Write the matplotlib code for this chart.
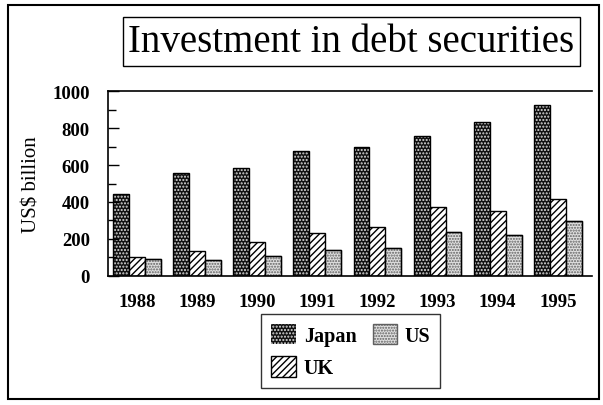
import numpy as np
import matplotlib.pyplot as plt
from matplotlib.patches import Rectangle
from matplotlib.ticker import MultipleLocator

years = ['1988', '1989', '1990', '1991', '1992', '1993', '1994', '1995']
japan = [445, 555, 585, 675, 700, 755, 835, 925]
uk = [100, 135, 185, 230, 265, 375, 350, 415]
us = [90, 85, 110, 140, 150, 235, 220, 295]

plt.rcParams['font.family'] = ['Liberation Serif', 'DejaVu Serif']
plt.rcParams['hatch.linewidth'] = 1.0

fig = plt.figure(figsize=(6.03, 4.06), dpi=100)
ax = fig.add_axes([0.179, 0.318, 0.803, 0.455])

x = np.arange(len(years))
w = 0.265

b1 = ax.bar(x - w, japan, w, color='#111111', edgecolor='#dddddd', hatch='.....', linewidth=0)
ax.bar(x - w, japan, w, fill=False, edgecolor='black', linewidth=1)
b2 = ax.bar(x, uk, w, color='white', edgecolor='black', hatch='/////', linewidth=1)
b3 = ax.bar(x + w, us, w, color='#e0e0e0', edgecolor='#606060', hatch='......', linewidth=1)
ax.bar(x + w, us, w, fill=False, edgecolor='black', linewidth=1)

ax.set_xlim(-0.48, 7.57)
ax.set_ylim(0, 1000)
ax.set_yticks([0, 200, 400, 600, 800, 1000])
ax.yaxis.set_minor_locator(MultipleLocator(100))
ax.tick_params(axis='y', direction='in', length=8, width=1, labelsize=13.5, pad=13)
ax.tick_params(axis='y', which='minor', direction='in', length=6, width=1)
for t in ax.get_yticklabels():
    t.set_fontweight('bold')
ax.set_xticks(x)
ax.set_xticklabels(years, fontsize=13.5, fontweight='bold')
ax.tick_params(axis='x', length=0, pad=12)
ax.spines['right'].set_visible(False)
for s in ['left', 'top', 'bottom']:
    ax.spines[s].set_linewidth(1.2)

ax.set_ylabel('US$ billion', fontsize=15, labelpad=8)

fig.text(0.583, 0.895, 'Investment in debt securities', fontsize=28,
         ha='center', va='center',
         bbox=dict(boxstyle='square,pad=0.15', facecolor='white', edgecolor='black', linewidth=1))

leg = fig.legend([b1, b2, b3], ['Japan', 'UK', 'US'], ncol=2,
                 loc='center', bbox_to_anchor=(0.582, 0.133),
                 prop={'size': 14.5, 'weight': 'bold'}, frameon=True, fancybox=False,
                 edgecolor='black', handlelength=1.2, handleheight=1.2,
                 columnspacing=0.8, handletextpad=0.4, labelspacing=0.5,
                 borderpad=0.5)
leg.get_frame().set_linewidth(1)

fig.patches.append(Rectangle((0.013, 0.015), 0.98, 0.97, transform=fig.transFigure,
                             fill=False, edgecolor='black', linewidth=1.5))

plt.savefig('out.png', dpi=100)
